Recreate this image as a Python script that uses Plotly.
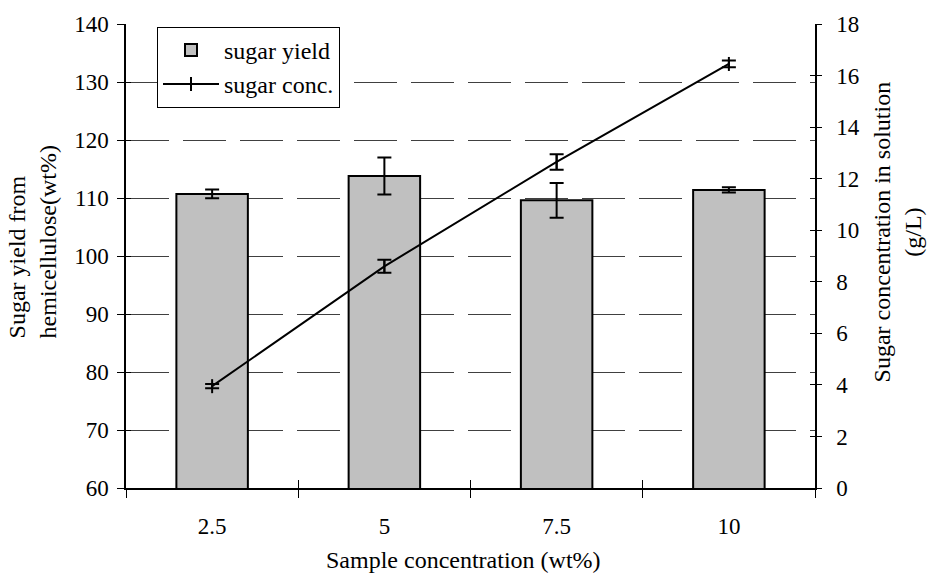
import plotly.graph_objects as go

# Sample concentrations (wt%) used as categories
categories = ["2.5", "5", "7.5", "10"]

# Sugar yield from hemicellulose (wt%) with standard deviation
sugar_yield = [110.7, 113.8, 109.6, 111.4]
sugar_yield_err = [0.75, 3.2, 3.0, 0.45]

# Sugar concentration in solution (g/L) with standard deviation
sugar_conc = [3.95, 8.6, 12.65, 16.45]
sugar_conc_err = [0.08, 0.25, 0.3, 0.13]

left_ticks = [60, 70, 80, 90, 100, 110, 120, 130, 140]
right_ticks = [0, 2, 4, 6, 8, 10, 12, 14, 16, 18]

FONT = "Liberation Serif, Times New Roman, serif"
FS = 23
TITLE_FS = 24

fig = go.Figure()

fig.add_trace(go.Bar(
    x=categories, y=sugar_yield, name="sugar yield",
    marker=dict(color="#C0C0C0", line=dict(color="black", width=2)),
    error_y=dict(type="data", array=sugar_yield_err, color="black",
                 thickness=2, width=7),
    xaxis="x", yaxis="y",
))

fig.add_trace(go.Scatter(
    x=categories, y=sugar_conc, name="sugar conc.",
    mode="lines+markers",
    line=dict(color="black", width=2),
    marker=dict(symbol="line-ns-open", size=10,
                line=dict(color="black", width=2), color="black"),
    error_y=dict(type="data", array=sugar_conc_err, color="black",
                 thickness=2, width=7),
    xaxis="x", yaxis="y2",
))

axis_font = dict(family=FONT, size=FS, color="black")
title_font = dict(family=FONT, size=TITLE_FS, color="black")

fig.update_layout(
    width=927, height=576,
    margin=dict(l=126, r=112, t=20, b=88),
    paper_bgcolor="white", plot_bgcolor="white",
    font=dict(family=FONT, size=FS, color="black"),
    bargap=0.585,
    showlegend=True,
    legend=dict(
        x=0.045, y=0.994, xanchor="left", yanchor="top",
        bgcolor="white", bordercolor="black", borderwidth=1,
        font=dict(family=FONT, size=24, color="black"),
        tracegroupgap=2, itemwidth=56,
    ),
    xaxis=dict(
        type="category", categoryarray=categories, range=[-0.5, 3.5],
        showline=True, linecolor="black", linewidth=1.5,
        ticks="outside", ticklen=8, tickcolor="black", tickwidth=1,
        tickson="boundaries", showgrid=False, zeroline=False,
        tickfont=axis_font, ticklabelstandoff=17,
    ),
    xaxis2=dict(
        type="category", categoryarray=categories, range=[-0.5, 3.5],
        overlaying="x", anchor="y", side="bottom",
        ticks="inside", ticklen=8, tickcolor="black", tickwidth=1,
        tickson="boundaries", showticklabels=False, showline=False,
        showgrid=False, zeroline=False,
    ),
    yaxis=dict(
        range=[60, 140], tickvals=left_ticks,
        showline=True, linecolor="black", linewidth=1.5,
        ticks="outside", ticklen=7, tickcolor="black", tickwidth=1,
        showgrid=True, gridcolor="#404040", gridwidth=1, griddash="43px,14px",
        zeroline=False, tickfont=axis_font, ticklabelstandoff=4,
    ),
    yaxis3=dict(
        range=[60, 140], tickvals=left_ticks, overlaying="y", side="left",
        anchor="x",
        ticks="inside", ticklen=5, tickcolor="black", tickwidth=1,
        showticklabels=False, showline=False, showgrid=False, zeroline=False,
    ),
    yaxis2=dict(
        range=[0, 18], tickvals=right_ticks, overlaying="y", side="right",
        anchor="x",
        showline=True, linecolor="black", linewidth=1.5,
        ticks="outside", ticklen=5, tickcolor="black", tickwidth=1,
        showgrid=False, zeroline=False, tickfont=axis_font,
        ticklabelstandoff=10,
    ),
    yaxis4=dict(
        range=[0, 18], tickvals=right_ticks, overlaying="y", side="right",
        anchor="x",
        ticks="inside", ticklen=5, tickcolor="black", tickwidth=1,
        showticklabels=False, showline=False, showgrid=False, zeroline=False,
    ),
    annotations=[
        dict(text="Sugar yield from<br>hemicellulose(wt%)",
             xref="paper", yref="paper", x=-0.136, y=0.53,
             xanchor="center", yanchor="middle", textangle=-90,
             align="left", showarrow=False, font=title_font),
        dict(text="Sugar concentration in solution<br>(g/L)",
             xref="paper", yref="paper", x=1.119, y=0.553,
             xanchor="center", yanchor="middle", textangle=-90,
             showarrow=False, font=title_font),
        dict(text="Sample concentration (wt%)",
             xref="paper", yref="paper", x=0.49, y=-0.155,
             xanchor="center", yanchor="middle",
             showarrow=False, font=title_font),
    ],
)

# Empty traces to register the overlay tick axes
fig.add_trace(go.Scatter(x=[], y=[], xaxis="x2", yaxis="y3", showlegend=False))
fig.add_trace(go.Scatter(x=[], y=[], xaxis="x", yaxis="y4", showlegend=False))

fig.write_html("out.html")
